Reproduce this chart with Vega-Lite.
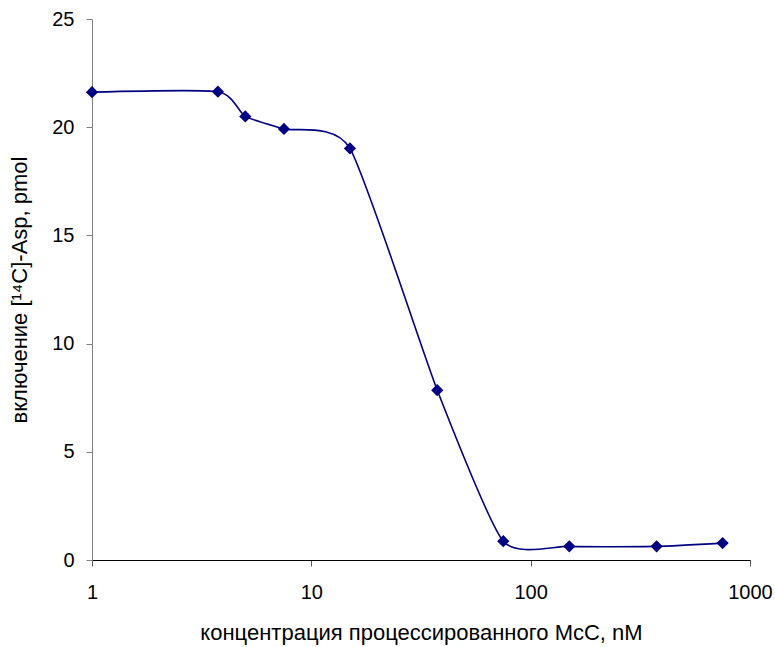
{
  "$schema": "https://vega.github.io/schema/vega-lite/v6.json",
  "width": 658,
  "height": 541,
  "autosize": "none",
  "padding": {"left": 92, "top": 19, "right": 25, "bottom": 87},
  "background": "white",
  "config": {
    "view": {"stroke": null},
    "font": "Liberation Sans",
    "axis": {"grid": false, "labelFont": "Liberation Sans", "titleFont": "Liberation Sans", "labelFontSize": 20, "titleFontSize": 22, "labelColor": "black", "titleColor": "black", "titleFontWeight": "normal", "tickSize": 6, "tickWidth": 1}
  },
  "data": {
    "values": [
      {"c": 1, "v": 21.62},
      {"c": 3.75, "v": 21.64},
      {"c": 5, "v": 20.5},
      {"c": 7.5, "v": 19.92},
      {"c": 15, "v": 19.02},
      {"c": 37.5, "v": 7.85},
      {"c": 75, "v": 0.87},
      {"c": 150, "v": 0.63},
      {"c": 375, "v": 0.63},
      {"c": 750, "v": 0.78}
    ]
  },
  "encoding": {
    "x": {
      "field": "c", "type": "quantitative",
      "scale": {"type": "log", "domain": [1, 1000], "nice": false},
      "axis": {"values": [1, 10, 100, 1000], "format": "d", "title": "концентрация процессированного McC, nM", "labelPadding": 16, "titlePadding": 20, "domainColor": "black", "tickColor": "#555", "labelFlush": false}
    },
    "y": {
      "field": "v", "type": "quantitative",
      "scale": {"domain": [0, 25], "nice": false},
      "axis": {"values": [0, 5, 10, 15, 20, 25], "title": "включение [¹⁴C]-Asp, pmol", "labelPadding": 12, "titlePadding": 20, "domainColor": "#808080", "tickColor": "#808080"}
    }
  },
  "layer": [
    {"mark": {"type": "line", "interpolate": "cardinal", "tension": 0.4, "color": "#000080", "strokeWidth": 1.6}},
    {"mark": {"type": "point", "shape": "diamond", "filled": true, "size": 150, "color": "#000080", "opacity": 1}}
  ]
}
